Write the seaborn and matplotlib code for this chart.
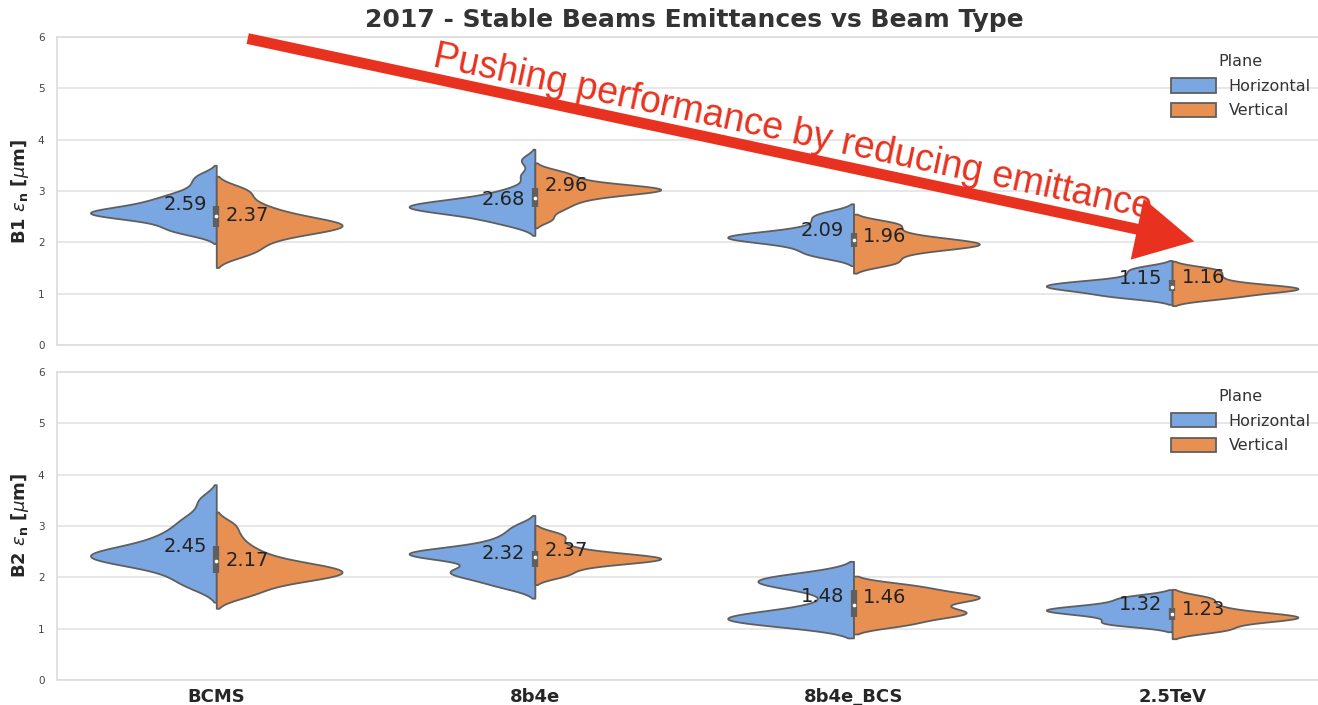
import numpy as np
import pandas as pd
import matplotlib.pyplot as plt
from matplotlib.patches import FancyArrowPatch
import seaborn as sns

# ---------------------------------------------------------------
# Data: emittance samples (um)
# ---------------------------------------------------------------
beams = ['BCMS', '8b4e', '8b4e_BCS', '2.5TeV']
planes = ['Horizontal', 'Vertical']

b1_h = {
    'BCMS': [2.18, 2.24, 2.3, 2.38, 2.45, 2.5, 2.52, 2.55, 2.55, 2.58, 2.6, 2.62,
             2.65, 2.7, 2.75, 2.8, 2.85, 2.92, 3.0, 3.15, 3.3],
    '8b4e': [2.35, 2.42, 2.5, 2.55, 2.6, 2.63, 2.66, 2.68, 2.7, 2.7, 2.72, 2.75,
             2.78, 2.82, 2.88, 2.95, 3.05, 3.3, 3.6],
    '8b4e_BCS': [1.72, 1.78, 1.85, 1.92, 1.98, 2.02, 2.05, 2.08, 2.1, 2.11, 2.13,
                 2.16, 2.2, 2.25, 2.32, 2.42, 2.5, 2.58],
    '2.5TeV': [0.92, 0.96, 1.0, 1.05, 1.08, 1.1, 1.13, 1.15, 1.17, 1.2, 1.22,
               1.25, 1.3, 1.38, 1.45, 1.52],
}
b1_v = {
    'BCMS': [1.75, 1.85, 1.95, 2.05, 2.12, 2.18, 2.22, 2.26, 2.3, 2.32, 2.34,
             2.37, 2.4, 2.45, 2.5, 2.55, 2.62, 2.7, 2.8, 2.95, 3.05],
    '8b4e': [2.45, 2.62, 2.72, 2.8, 2.87, 2.92, 2.96, 2.99, 3.01, 3.03, 3.04, 3.05,
             3.07, 3.1, 3.15, 3.22, 3.3, 3.38],
    '8b4e_BCS': [1.57, 1.62, 1.72, 1.8, 1.86, 1.9, 1.93, 1.95, 1.97, 1.99, 2.02,
                 2.06, 2.1, 2.16, 2.25, 2.35, 2.38],
    '2.5TeV': [0.9, 0.94, 0.98, 1.03, 1.06, 1.08, 1.1, 1.11, 1.13, 1.16, 1.2,
               1.25, 1.32, 1.38, 1.45, 1.5],
}
b2_h = {
    'BCMS': [1.82, 1.95, 2.1, 2.2, 2.28, 2.33, 2.37, 2.4, 2.42, 2.45, 2.5, 2.55,
             2.62, 2.7, 2.8, 2.9, 3.05, 3.2, 3.5],
    '8b4e': [1.82, 1.9, 2.02, 2.08, 2.1, 2.13, 2.2, 2.35, 2.4, 2.43, 2.45, 2.46,
             2.48, 2.52, 2.58, 2.68, 2.8, 2.98],
    '8b4e_BCS': [1.08, 1.1, 1.12, 1.16, 1.19, 1.21, 1.23, 1.26, 1.3, 1.38, 1.5,
                 1.7, 1.82, 1.87, 1.9, 1.93, 1.97, 2.0, 2.05],
    '2.5TeV': [1.07, 1.1, 1.15, 1.22, 1.27, 1.31, 1.34, 1.36, 1.38, 1.41, 1.45,
               1.5, 1.58, 1.63],
}
b2_v = {
    'BCMS': [1.65, 1.72, 1.85, 1.93, 1.98, 2.02, 2.05, 2.07, 2.1, 2.15, 2.19,
             2.2, 2.25, 2.32, 2.4, 2.5, 2.62, 2.8, 3.02],
    '8b4e': [2.02, 2.1, 2.2, 2.26, 2.3, 2.33, 2.35, 2.36, 2.38, 2.4, 2.43, 2.47,
             2.53, 2.62, 2.75, 2.85],
    '8b4e_BCS': [1.07, 1.1, 1.2, 1.26, 1.29, 1.31, 1.34, 1.4, 1.46, 1.52, 1.57,
                 1.6, 1.62, 1.64, 1.68, 1.75, 1.82, 1.85],
    '2.5TeV': [0.95, 0.98, 1.05, 1.12, 1.16, 1.19, 1.21, 1.23, 1.25, 1.28, 1.32,
               1.38, 1.45, 1.55, 1.62],
}

# printed averages on each half
b1_labels_h = [2.59, 2.68, 2.09, 1.15]
b1_labels_v = [2.37, 2.96, 1.96, 1.16]
b2_labels_h = [2.45, 2.32, 1.48, 1.32]
b2_labels_v = [2.17, 2.37, 1.46, 1.23]


def to_frame(h, v):
    rows = []
    for beam in beams:
        rows += [(beam, 'Horizontal', e) for e in h[beam]]
        rows += [(beam, 'Vertical', e) for e in v[beam]]
    return pd.DataFrame(rows, columns=['Beam', 'Plane', 'Emittance'])


df1 = to_frame(b1_h, b1_v)
df2 = to_frame(b2_h, b2_v)

# ---------------------------------------------------------------
# Plot
# ---------------------------------------------------------------
sns.set_theme(style="whitegrid")
palette = {'Horizontal': '#7aa7e1', 'Vertical': '#e88f52'}
edge = '#5f5f5f'

fig = plt.figure(figsize=(13.18, 7.05), dpi=100)
ax1 = fig.add_axes([0.0432, 0.5106, 0.967, 0.4369])
ax2 = fig.add_axes([0.0432, 0.0355, 0.967, 0.4369])

panels = [(ax1, df1, b1_labels_h, b1_labels_v, 'B1'),
          (ax2, df2, b2_labels_h, b2_labels_v, 'B2')]
for ax, df, lab_h, lab_v, name in panels:
    sns.violinplot(data=df, x='Beam', y='Emittance', hue='Plane', order=beams,
                   hue_order=planes, split=True, inner=None, cut=2,
                   bw_adjust=0.65, palette=palette, saturation=1,
                   linewidth=1.3, linecolor=edge, density_norm='width',
                   width=0.79, ax=ax)
    # small box of both planes on the split line
    for i, beam in enumerate(beams):
        vals = df.loc[df['Beam'] == beam, 'Emittance']
        q1, med, q3 = np.percentile(vals, [25, 50, 75])
        ax.vlines(i, q1, q3, lw=4.5, color=edge, zorder=3)
        ax.scatter([i], [med], s=7, color='white', zorder=4, lw=0)
        ax.text(i - 0.03, lab_h[i] + 0.15, f"{lab_h[i]:.2f}", ha='right',
                va='center', fontsize=14, color='#222222', zorder=5)
        ax.text(i + 0.03, lab_v[i] + 0.15, f"{lab_v[i]:.2f}", ha='left',
                va='center', fontsize=14, color='#222222', zorder=5)
    ax.set_ylim(0, 6)
    ax.set_xlim(-0.5, 3.5)
    ax.set_yticks(range(0, 7))
    ax.tick_params(axis='y', labelsize=7.5, labelcolor='#444444', pad=3)
    ax.set_ylabel(name + r" $\epsilon_\mathbf{n}$ [$\mu$m]", fontsize=13,
                  fontweight='bold', labelpad=5)
    ax.set_xlabel("")
    ax.grid(axis='x', visible=False)
    ax.grid(axis='y', color='#e3e3e3', lw=1.2)
    for s in ax.spines.values():
        s.set_color('#dddddd')
    leg = ax.legend(title='Plane', loc='upper right', bbox_to_anchor=(0.995, 0.99),
                    frameon=False, fontsize=11.5, title_fontsize=11.5,
                    handlelength=2.8, handleheight=1.0, labelspacing=0.55)
    for t in leg.get_texts():
        t.set_color('#333333')
    leg.get_title().set_color('#333333')

ax1.set_xticklabels([])
ax2.set_xticks(range(len(beams)))
ax2.set_xticklabels(beams, fontsize=13, fontweight='bold')
ax2.tick_params(axis='x', pad=0)

ax1.set_title("2017 - Stable Beams Emittances vs Beam Type", fontsize=18,
              fontweight='bold', color='#333333', pad=7)

# Big red arrow with message
red = '#e8321f'
fig.patches.append(FancyArrowPatch(
    (245, 705 - 38), (1197, 705 - 242), transform=None,
    arrowstyle='simple,head_length=1.5,head_width=1.6,tail_width=0.28',
    mutation_scale=28, color=red, lw=0))
fig.text(0.601, 0.812, "Pushing performance by reducing emittance",
         rotation=-12, rotation_mode='anchor', ha='center', va='center',
         fontsize=27, color=red, family='Liberation Sans')

fig.savefig("out.png", dpi=100)
